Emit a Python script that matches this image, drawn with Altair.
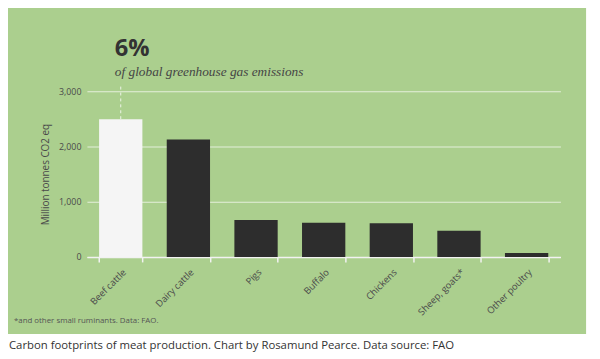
import altair as alt
import pandas as pd

categories = ["Beef cattle", "Dairy cattle", "Pigs", "Buffalo", "Chickens", "Sheep, goats*", "Other poultry"]
values = [2495, 2128, 668, 618, 612, 474, 72]
highlight = [True, False, False, False, False, False, False]
y_ticks = [0, 1000, 2000, 3000]

df = pd.DataFrame({"cat": categories, "value": values, "hl": highlight})

GREEN = "#abcf8e"
W, H = 480, 168

xenc = alt.X("cat:N", sort=categories,
             scale=alt.Scale(paddingInner=0.36, paddingOuter=0.18),
             axis=alt.Axis(title=None, labelAngle=315, labelFontSize=9.5, labelColor="#4a4a4a",
                           labelFont="Open Sans", domainColor="#f2f2f2", domainWidth=1.5,
                           tickColor="#f2f2f2", tickBand="extent", tickSize=5, tickWidth=1.5,
                           labelPadding=5, grid=False))
yenc = alt.Y("value:Q", scale=alt.Scale(domain=[0, 3000], nice=False),
             axis=alt.Axis(title="Million tonnes CO2 eq", values=y_ticks, format=",d",
                           labelFontSize=9, labelColor="#4a4a4a", labelFont="Open Sans",
                           titleFont="Open Sans", titleFontSize=10, titleColor="#4a4a4a",
                           titleFontWeight="normal", titlePadding=8,
                           domain=False, ticks=False, labelPadding=6,
                           grid=True, gridColor="#e4efda", gridWidth=1.2))

white_bottom = alt.Chart(df.head(1)).mark_rect(color="white").encode(
    x=alt.value(-90), x2=alt.value(520), y=alt.value(246), y2=alt.value(280))
white_right = alt.Chart(df.head(1)).mark_rect(color="white").encode(
    x=alt.value(506), x2=alt.value(520), y=alt.value(-90), y2=alt.value(280))

bars = alt.Chart(df).mark_bar().encode(
    x=xenc, y=yenc,
    color=alt.Color("hl:N", scale=alt.Scale(domain=[True, False], range=["#f5f5f5", "#2d2d2d"]), legend=None))

base = alt.Chart(df[df["hl"]])
rule = base.mark_rule(color="#eef5e8", strokeDash=[3, 3], strokeWidth=1).encode(
    x=alt.X("cat:N", sort=categories), y=alt.Y("value:Q"), y2=alt.value(-7))

big = base.mark_text(text="6%", align="left", baseline="middle", fontSize=24, fontWeight="bold",
                     font="Open Sans", color="#333333", dx=-6).encode(
    x=alt.X("cat:N", sort=categories), y=alt.value(-43))
sub = base.mark_text(text="of global greenhouse gas emissions", align="left", baseline="middle",
                     fontSize=13.5, fontStyle="italic", font="Liberation Serif", color="#454545", dx=-6).encode(
    x=alt.X("cat:N", sort=categories), y=alt.value(-19))

foot = base.mark_text(text="*and other small ruminants. Data: FAO.", align="left", baseline="middle",
                      fontSize=8, font="Open Sans", color="#555555").encode(
    x=alt.value(-74), y=alt.value(233))
cap = base.mark_text(text="Carbon footprints of meat production. Chart by Rosamund Pearce. Data source: FAO",
                     align="left", baseline="middle", fontSize=11.5, font="Open Sans", color="#333333").encode(
    x=alt.value(-79), y=alt.value(258))

chart = alt.layer(white_bottom, white_right, bars, rule, big, sub, foot, cap).properties(
    width=W, height=H,
    autosize=alt.AutoSizeParams(type="none"),
    padding={"left": 80, "top": 82, "right": 32, "bottom": 100},
    background=GREEN,
).configure_view(stroke=None).resolve_scale(x="shared", y="shared")

chart.save("out.html", embed_options={"renderer": "svg", "actions": False})
